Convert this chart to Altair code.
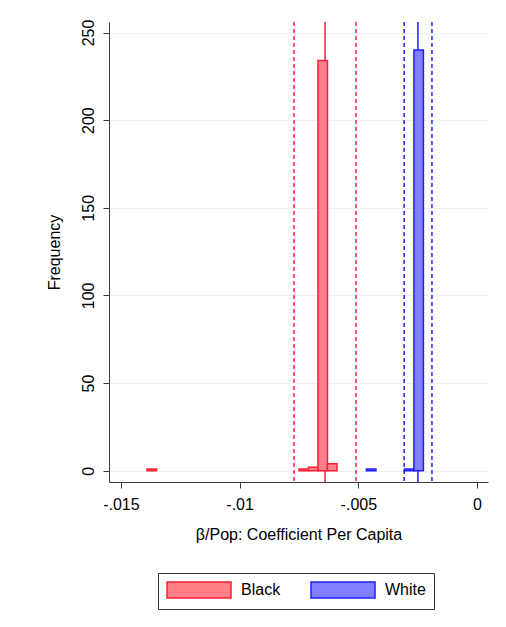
import altair as alt
import pandas as pd

# ---- data ----
groups = ["Black", "White"]
black_bin_start = [-0.0139, -0.0075, -0.0071, -0.0067, -0.0063]
black_counts = [1, 1, 2, 234, 4]
white_bin_start = [-0.00466, -0.00306, -0.00266]
white_counts = [1, 1, 240]
bin_width = 0.0004

black_mean = -0.0064
black_ci = [-0.00771, -0.0051]
white_mean = -0.00249
white_ci = [-0.00307, -0.0019]

x_ticks = [-0.015, -0.01, -0.005, 0]
x_labels = ["-.015", "-.01", "-.005", "0"]
y_ticks = [0, 50, 100, 150, 200, 250]

fills = ["#ff8088", "#8080ff"]
strokes = ["#ff2035", "#1f1fff"]
FONT = "Liberation Sans"

bars = pd.DataFrame(
    [{"group": "Black", "x": s, "x2": s + bin_width, "count": c} for s, c in zip(black_bin_start, black_counts)]
    + [{"group": "White", "x": s, "x2": s + bin_width, "count": c} for s, c in zip(white_bin_start, white_counts)]
)
means = pd.DataFrame([{"group": "Black", "x": black_mean}, {"group": "White", "x": white_mean}])
cis = pd.DataFrame(
    [{"group": "Black", "x": v} for v in black_ci] + [{"group": "White", "x": v} for v in white_ci]
)

label_expr = ""
for v, l in zip(x_ticks, x_labels):
    label_expr += f"abs(datum.value - ({v})) < 1e-9 ? '{l}' : "
label_expr += "''"

x_scale = alt.Scale(domain=[-0.0155, 0.00046], nice=False, zero=False)
y_scale = alt.Scale(domain=[-6.45, 256], nice=False, zero=False)
fill_scale = alt.Scale(domain=groups, range=fills)
stroke_scale = alt.Scale(domain=groups, range=strokes)

x_axis = alt.Axis(
    values=x_ticks, labelExpr=label_expr, title="β/Pop: Coefficient Per Capita",
    grid=False, tickSize=6, labelPadding=8, titlePadding=14,
)
y_axis = alt.Axis(
    values=y_ticks, title="Frequency", grid=True, tickSize=6,
    labelAngle=-90, labelAlign="center", labelBaseline="alphabetic", labelPadding=10,
    titlePadding=18,
)

# wide rectangular legend keys (64 x 16 px) drawn from a 16 px symbol slot
legend = alt.Legend(
    title=None, orient="none", legendX=49, legendY=551, direction="horizontal", columns=2,
    symbolType="M-1,-1L7,-1L7,1L-1,1Z", symbolSize=256, symbolStrokeWidth=1.5,
    labelFont=FONT, labelFontSize=16, labelColor="black", labelOffset=57,
    columnPadding=27, padding=8, strokeColor="#333333",
)

# reference lines: one layer per group and style, colours from the palette above
rule_layers = []
for g, col in zip(groups, strokes):
    rule_layers.append(
        alt.Chart(cis).transform_filter(alt.datum.group == g)
        .mark_rule(strokeWidth=1.5, strokeDash=[4, 3], color=col)
        .encode(x=alt.X("x:Q", scale=x_scale, axis=x_axis))
    )
    rule_layers.append(
        alt.Chart(means).transform_filter(alt.datum.group == g)
        .mark_rule(strokeWidth=1.5, color=col)
        .encode(x=alt.X("x:Q", scale=x_scale, axis=x_axis))
    )

hist = alt.Chart(bars).mark_bar(strokeWidth=1.5).encode(
    x=alt.X("x:Q", scale=x_scale, axis=x_axis),
    x2="x2:Q",
    y=alt.Y("count:Q", scale=y_scale, axis=y_axis),
    y2=alt.datum(0),
    fill=alt.Fill("group:N", scale=fill_scale, legend=legend),
    stroke=alt.Stroke("group:N", scale=stroke_scale, legend=legend),
)

chart = alt.layer(*rule_layers, hist).properties(
    width=379, height=460,
    padding={"left": 38, "top": 11, "right": 5, "bottom": 5},
).configure_view(stroke=None).configure_axis(
    labelFont=FONT, titleFont=FONT, labelFontSize=16, titleFontSize=16,
    labelColor="black", titleColor="black", titleFontWeight="normal",
    domainColor="#3c3c3c", tickColor="#3c3c3c", domainWidth=1, tickWidth=1,
    gridColor="#eaf2f3", gridWidth=1,
)

chart.save("out.html", embed_options={"renderer": "svg", "actions": False})
